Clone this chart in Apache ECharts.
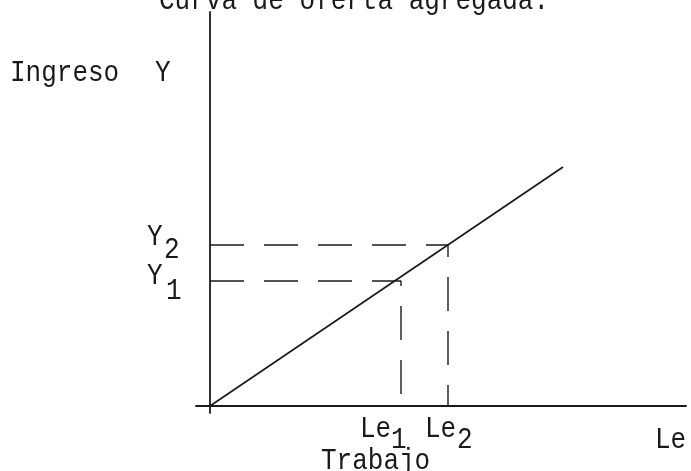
<!DOCTYPE html>
<html><head><meta charset="utf-8">
<script src="https://cdn.jsdelivr.net/npm/echarts@6/dist/echarts.min.js"></script>
<style>html,body{margin:0;padding:0;background:#fff}#c{width:691px;height:471px}</style>
</head><body><div id="c"></div>
<script>
// ---- data ----
const titleText = 'Curva de oferta agregada.';
const yAxisName = 'Ingreso';
const yAxisSymbol = 'Y';
const xAxisName = 'Trabajo';
const xAxisSymbol = 'Le';
const supplyX = [0, 353];
const supplyY = [0, 239];
const laborLevels = [191, 238];   // Le1, Le2
const incomeLevels = [125, 161];  // Y1, Y2
const laborLabels = ['Le', 'Le'];
const laborSubs = ['1', '2'];
const incomeLabels = ['Y', 'Y'];
const incomeSubs = ['1', '2'];

// ---- chart ----
const FONT = '26px "Liberation Mono", monospace';
const INK = '#1a1a1a';
const chart = echarts.init(document.getElementById('c'), null, {renderer: 'canvas'});

const series = [{
  type: 'line', symbol: 'none', silent: true,
  data: supplyX.map((x, i) => [x, supplyY[i]]),
  lineStyle: {color: INK, width: 1.7}
}];
laborLevels.forEach((le, i) => {
  series.push({
    type: 'line', symbol: 'none', silent: true,
    data: [[0, incomeLevels[i]], [le, incomeLevels[i]], [le, 0]],
    lineStyle: {color: INK, width: 1.4, type: [34, 20]}
  });
});

chart.setOption({
  animation: false,
  backgroundColor: '#fff',
  grid: {left: 196, right: 5, top: 12, bottom: 58},
  xAxis: {type: 'value', min: -14, max: 476,
    axisLine: {onZero: true, lineStyle: {color: INK, width: 1.8}},
    axisTick: {show: false}, axisLabel: {show: false}, splitLine: {show: false}},
  yAxis: {type: 'value', min: -7, max: 394,
    axisLine: {onZero: true, lineStyle: {color: INK, width: 1.8}},
    axisTick: {show: false}, axisLabel: {show: false}, splitLine: {show: false}},
  series: series
});

function txt(text, x, y, align) {
  return {type: 'text', silent: true, z: 100, x: x, y: y, scaleY: 1.15,
    style: {text: text, x: 0, y: 0, font: FONT, fill: INK,
      align: align || 'left', verticalAlign: 'middle'}};
}
const g = [];
g.push(txt(titleText, 159, 1));
g.push(txt(yAxisName, 10, 73));
g.push(txt(yAxisSymbol, 155, 73));
g.push(txt(xAxisName, 321, 461));
g.push(txt(xAxisSymbol, 655, 440));

const yLabDx = [-63, -63], ySubDx = [-44, -46];
const yLabDy = [-5, -8], ySubDy = [10, 5];
incomeLevels.forEach((v, i) => {
  const p = chart.convertToPixel({gridIndex: 0}, [0, v]);
  g.push(txt(incomeLabels[i], p[0] + yLabDx[i], p[1] + yLabDy[i]));
  g.push(txt(incomeSubs[i], p[0] + ySubDx[i], p[1] + ySubDy[i]));
});
const xLabDx = [-41, -23], xSubDx = [-10, 9];
laborLevels.forEach((v, i) => {
  const p = chart.convertToPixel({gridIndex: 0}, [v, 0]);
  g.push(txt(laborLabels[i], p[0] + xLabDx[i], p[1] + 23));
  g.push(txt(laborSubs[i], p[0] + xSubDx[i], p[1] + 34));
});
chart.setOption({graphic: g});
</script></body></html>
